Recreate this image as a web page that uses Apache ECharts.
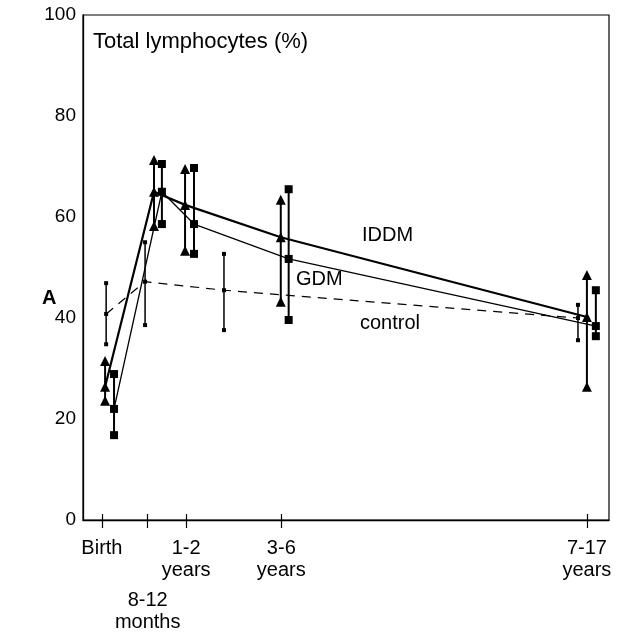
<!DOCTYPE html>
<html>
<head>
<meta charset="utf-8">
<script src="https://cdn.jsdelivr.net/npm/echarts@6/dist/echarts.min.js"></script>
<style>
  html, body { margin: 0; padding: 0; background: #fff; }
  #chart { width: 618px; height: 633px; }
</style>
</head>
<body>
<div id="chart"></div>
<script>
// Age groups along the horizontal axis (position units, 0-100)
const groupPos = [3.6, 12.3, 19.6, 37.7, 95.8];
const groupLabels = ['Birth', '8-12\nmonths', '1-2\nyears', '3-6\nyears', '7-17\nyears'];
const yTicks = [0, 20, 40, 60, 80, 100];

// IDDM group (triangles): mean and error-bar ends
const iddmX = [4.2, 13.5, 19.4, 37.6, 95.8];
const iddmMean = [26.4, 65.0, 62.4, 56.0, 40.2];
const iddmLow = [23.6, 58.2, 53.3, 43.2, 26.4];
const iddmHigh = [31.5, 71.3, 69.5, 63.4, 48.5];

// GDM group (squares)
const gdmX = [5.9, 15.0, 21.1, 39.1, 97.5];
const gdmMean = [22.0, 65.0, 58.6, 51.7, 38.4];
const gdmLow = [16.8, 58.6, 52.7, 39.6, 36.4];
const gdmHigh = [28.9, 70.5, 69.7, 65.5, 45.5];

// control group (small squares, dashed)
const ctrlX = [4.4, 11.8, 26.8, 94.1];
const ctrlMean = [40.8, 47.2, 45.5, 40.0];
const ctrlLow = [34.8, 38.6, 37.6, 35.6];
const ctrlHigh = [46.9, 55.0, 52.7, 42.6];

const FONT = '"Liberation Sans", Arial, Helvetica, sans-serif';

function pairs(xs, ys) { return xs.map((x, i) => [x, ys[i]]); }

function errorBars(xs, lows, highs, width) {
  return {
    type: 'custom',
    silent: true,
    z: 3,
    data: xs.map((x, i) => [x, lows[i], highs[i]]),
    encode: { x: 0, y: [1, 2] },
    renderItem(params, api) {
      const a = api.coord([api.value(0), api.value(1)]);
      const b = api.coord([api.value(0), api.value(2)]);
      return {
        type: 'line',
        shape: { x1: a[0], y1: a[1], x2: b[0], y2: b[1] },
        style: { stroke: '#000', lineWidth: width }
      };
    }
  };
}

function caps(xs, lows, highs, symbol, size) {
  return {
    type: 'scatter',
    silent: true,
    z: 4,
    symbol: symbol,
    symbolSize: size,
    itemStyle: { color: '#000', opacity: 1 },
    data: pairs(xs, lows).concat(pairs(xs, highs))
  };
}

function nearestGroup(v) {
  let best = 0;
  groupPos.forEach((p, i) => { if (Math.abs(p - v) < Math.abs(groupPos[best] - v)) best = i; });
  return best;
}

const chart = echarts.init(document.getElementById('chart'), null, { renderer: 'canvas' });

chart.setOption({
  animation: false,
  backgroundColor: '#fff',
  grid: {
    left: 83, right: 9, top: 15, bottom: 113,
    show: true, borderColor: '#000', borderWidth: 1.2, backgroundColor: 'transparent'
  },
  xAxis: [
    {
      type: 'value', min: 0, max: 100,
      axisLine: { lineStyle: { color: '#000', width: 1.3 } },
      splitLine: { show: false },
      axisTick: { show: true, customValues: groupPos, length: 8, lineStyle: { color: '#000', width: 1.2 } },
      axisLabel: {
        show: true,
        customValues: groupPos,
        margin: 17,
        formatter: function (v) {
          const i = nearestGroup(v);
          const lines = groupLabels[i].split('\n').map(s => '{t|' + s + '}');
          if (i === 1) return '{gap| }\n' + lines.join('\n');
          return lines.join('\n');
        },
        rich: {
          t: { fontSize: 20, lineHeight: 22, fontFamily: FONT, color: '#000', align: 'center' },
          gap: { fontSize: 8, lineHeight: 52 }
        }
      }
    },
    {
      type: 'value', min: 0, max: 100, position: 'bottom',
      axisLine: { show: false },
      splitLine: { show: false },
      axisLabel: { show: false },
      axisTick: { show: true, inside: true, customValues: groupPos, length: 6, lineStyle: { color: '#000', width: 1.2 } }
    }
  ],
  yAxis: {
    type: 'value', min: 0, max: 100, interval: 20,
    axisLine: { show: true, lineStyle: { color: '#000', width: 1.3 } },
    axisTick: { show: false },
    splitLine: { show: false },
    axisLabel: { customValues: yTicks, color: '#000', fontSize: 19, margin: 7, fontFamily: FONT }
  },
  series: [
    errorBars(iddmX, iddmLow, iddmHigh, 2),
    errorBars(gdmX, gdmLow, gdmHigh, 2),
    errorBars(ctrlX, ctrlLow, ctrlHigh, 1.5),
    caps(iddmX, iddmLow, iddmHigh, 'triangle', 10),
    caps(gdmX, gdmLow, gdmHigh, 'rect', 8),
    caps(ctrlX, ctrlLow, ctrlHigh, 'rect', 4),
    {
      name: 'IDDM', type: 'line', z: 5,
      data: pairs(iddmX, iddmMean),
      symbol: 'triangle', symbolSize: 10,
      itemStyle: { color: '#000', opacity: 1 },
      lineStyle: { color: '#000', width: 2.2 }
    },
    {
      name: 'GDM', type: 'line', z: 5,
      data: pairs(gdmX, gdmMean),
      symbol: 'rect', symbolSize: 8,
      itemStyle: { color: '#000', opacity: 1 },
      lineStyle: { color: '#000', width: 1.3 }
    },
    {
      name: 'control', type: 'line', z: 5,
      data: pairs(ctrlX, ctrlMean),
      symbol: 'rect', symbolSize: 4,
      itemStyle: { color: '#000', opacity: 1 },
      lineStyle: { color: '#000', width: 1.2, type: [9, 7] }
    }
  ],
  graphic: [
    { type: 'text', left: 93, top: 31, style: { text: 'Total lymphocytes (%)', font: '22px ' + FONT, fill: '#000' } },
    { type: 'text', left: 362, top: 225, style: { text: 'IDDM', font: '20px ' + FONT, fill: '#000' } },
    { type: 'text', left: 296, top: 269, style: { text: 'GDM', font: '20px ' + FONT, fill: '#000' } },
    { type: 'text', left: 360, top: 313, style: { text: 'control', font: '20px ' + FONT, fill: '#000' } },
    { type: 'text', left: 42, top: 288, style: { text: 'A', font: 'bold 20px ' + FONT, fill: '#000' } }
  ]
});
</script>
</body>
</html>
